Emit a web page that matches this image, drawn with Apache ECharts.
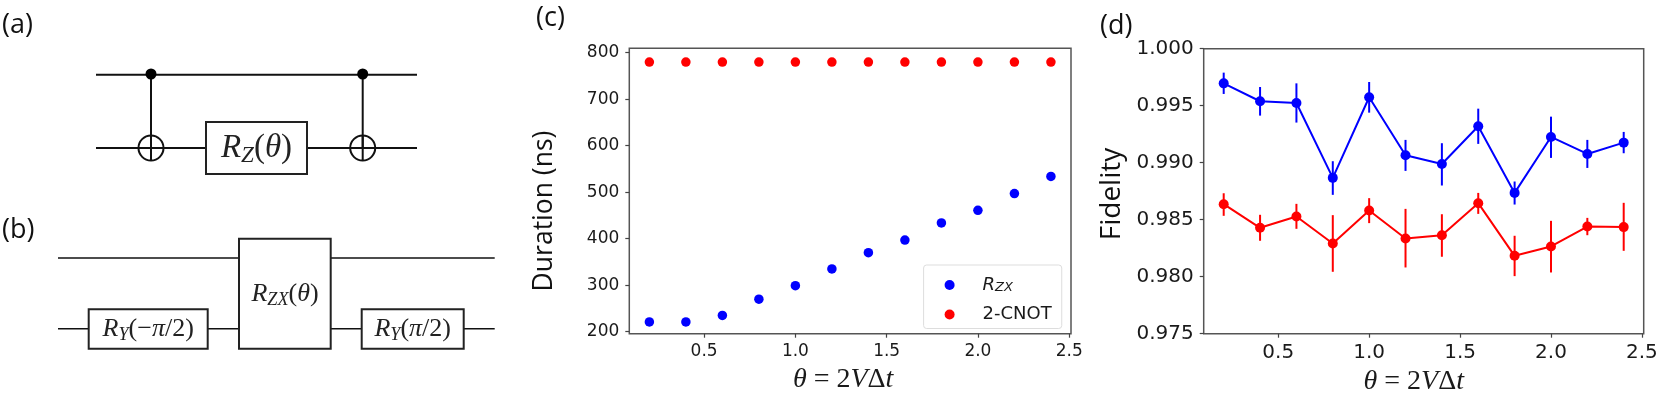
<!DOCTYPE html>
<html>
<head>
<meta charset="utf-8">
<title>Circuits, duration and fidelity</title>
<script src="https://cdn.jsdelivr.net/npm/echarts@6/dist/echarts.min.js"></script>
<style>
html, body { margin: 0; padding: 0; background: #fff; }
#chart { width: 1661px; height: 396px; }
</style>
</head>
<body>
<div id="chart"></div>
<script>
// data
var theta = [0.2, 0.4, 0.6, 0.8, 1.0, 1.2, 1.4, 1.6, 1.8, 2.0, 2.2, 2.4];
var thetaTicks = [0.5, 1.0, 1.5, 2.0, 2.5];

var durationTicks = [200, 300, 400, 500, 600, 700, 800];
var durationRzx = [221, 221, 235, 270, 299, 335, 370, 397, 434, 461, 497, 534];
var durationCnot = [780, 780, 780, 780, 780, 780, 780, 780, 780, 780, 780, 780];

var fidelityTicks = [0.975, 0.980, 0.985, 0.990, 0.995, 1.000];
var fidelityRzx = [0.99696, 0.99539, 0.99524, 0.98867, 0.99574, 0.99065, 0.98989, 0.99320, 0.98735, 0.99226, 0.99077, 0.99176];
var fidelityRzxHigh = [0.99790, 0.99664, 0.99696, 0.99013, 0.99708, 0.99200, 0.99171, 0.99474, 0.98835, 0.99404, 0.99200, 0.99270];
var fidelityRzxLow = [0.99603, 0.99413, 0.99352, 0.98718, 0.99439, 0.98928, 0.98800, 0.99165, 0.98633, 0.99042, 0.98954, 0.99083];
var fidelityCnot = [0.98636, 0.98429, 0.98528, 0.98291, 0.98581, 0.98335, 0.98364, 0.98645, 0.98183, 0.98265, 0.98440, 0.98435];
var fidelityCnotHigh = [0.98732, 0.98543, 0.98639, 0.98540, 0.98689, 0.98595, 0.98548, 0.98735, 0.98359, 0.98490, 0.98516, 0.98648];
var fidelityCnotLow = [0.98534, 0.98315, 0.98420, 0.98043, 0.98470, 0.98081, 0.98175, 0.98551, 0.98005, 0.98037, 0.98364, 0.98227];

var BLUE = '#0000ff';
var RED = '#ff0000';
var INK = '#1a1a1a';
var TICK_FONT = 'DejaVu Sans';
var MATH_FONT = 'Liberation Serif';
var LABEL_FONT = 'Open Sans';

function pairs(xs, ys) {
    return xs.map(function (x, i) { return [x, ys[i]]; });
}

function errorData(xs, low, high) {
    return xs.map(function (x, i) { return [x, low[i], high[i]]; });
}

// vertical error bars, one custom series per colour
function errorSeries(name, color, low, high) {
    return {
        name: name,
        type: 'custom',
        xAxisIndex: 1,
        yAxisIndex: 1,
        data: errorData(theta, low, high),
        encode: { x: 0, y: [1, 2] },
        z: 2,
        renderItem: function (params, api) {
            var a = api.coord([api.value(0), api.value(1)]);
            var b = api.coord([api.value(0), api.value(2)]);
            return {
                type: 'line',
                shape: { x1: a[0], y1: a[1], x2: b[0], y2: b[1] },
                style: { stroke: color, lineWidth: 2 }
            };
        }
    };
}

function xAxisFor(gridIndex, fontSize, nameSize, nameGap, namePad) {
    return {
        type: 'value',
        gridIndex: gridIndex,
        min: 0.09,
        max: 2.51,
        name: '{i|\u03b8} = 2{i|V}\u0394{i|t}',
        nameLocation: 'middle',
        nameGap: nameGap,
        nameTextStyle: {
            fontFamily: MATH_FONT,
            fontSize: nameSize,
            color: INK,
            padding: [0, namePad, 0, 0],
            rich: { i: { fontFamily: MATH_FONT, fontStyle: 'italic', fontSize: nameSize, color: INK } }
        },
        axisLine: { show: false },
        splitLine: { show: false },
        axisTick: { length: 4, inside: false, customValues: thetaTicks, lineStyle: { color: '#444', width: 1.2 } },
        axisLabel: {
            customValues: thetaTicks,
            fontFamily: TICK_FONT,
            fontSize: fontSize,
            color: INK,
            margin: 9,
            formatter: function (v) { return v.toFixed(1); }
        }
    };
}

function yAxisFor(gridIndex, min, max, ticks, digits, fontSize) {
    return {
        type: 'value',
        gridIndex: gridIndex,
        min: min,
        max: max,
        axisLine: { show: false },
        splitLine: { show: false },
        axisTick: { length: 4, customValues: ticks, lineStyle: { color: '#444', width: 1.2 } },
        axisLabel: {
            customValues: ticks,
            fontFamily: TICK_FONT,
            fontSize: fontSize,
            color: INK,
            margin: 10,
            formatter: function (v) { return v.toFixed(digits); }
        }
    };
}

// helpers for the two circuit sketches
function wire(x1, y1, x2, y2, width) {
    return {
        type: 'line',
        shape: { x1: x1, y1: y1, x2: x2, y2: y2 },
        style: { stroke: '#111', lineWidth: width || 2 }
    };
}

function box(x, y, w, h, width) {
    return {
        type: 'rect',
        z: 5,
        shape: { x: x, y: y, width: w, height: h },
        style: { fill: '#fff', stroke: '#222', lineWidth: width || 2 }
    };
}

function dot(x, y) {
    return { type: 'circle', z: 6, shape: { cx: x, cy: y, r: 5.5 }, style: { fill: '#000' } };
}

function cnot(x, y) {
    return [
        { type: 'circle', z: 6, shape: { cx: x, cy: y, r: 12.5 }, style: { fill: 'none', stroke: '#111', lineWidth: 2 } },
        wire(x, y - 12.5, x, y + 12.5)
    ];
}

function gateText(x, y, text, size) {
    return {
        type: 'text',
        z: 7,
        x: x,
        y: y,
        style: {
            text: text,
            align: 'center',
            verticalAlign: 'middle',
            fontFamily: MATH_FONT,
            fontSize: size,
            fill: '#222',
            rich: {
                i: { fontFamily: MATH_FONT, fontStyle: 'italic', fontSize: size, fill: '#222' },
                n: { fontFamily: MATH_FONT, fontSize: size, fill: '#222' },
                s: { fontFamily: MATH_FONT, fontStyle: 'italic', fontSize: size * 0.7, fill: '#222', padding: [size * 0.45, 0, 0, 0] }
            }
        }
    };
}

function panelLabel(x, y, text, size, rotation) {
    return {
        type: 'text',
        z: 7,
        x: x,
        y: y,
        rotation: rotation || 0,
        style: {
            text: text,
            align: rotation ? 'center' : 'left',
            verticalAlign: 'middle',
            fontFamily: LABEL_FONT,
            fontSize: size,
            fill: '#111'
        }
    };
}

var graphics = [
    panelLabel(2, 25, '(a)', 27),
    panelLabel(2, 230, '(b)', 27),
    panelLabel(536, 18, '(c)', 27),
    panelLabel(1100, 26, '(d)', 27),
    panelLabel(544, 211, 'Duration (ns)', 26.5, Math.PI / 2),
    panelLabel(1112, 194, 'Fidelity', 28, Math.PI / 2),

    // circuit (a)
    wire(96, 74.7, 417, 74.7),
    wire(96, 148, 417, 148),
    wire(151, 74, 151, 148),
    wire(362.7, 74, 362.7, 148),
    dot(151, 74),
    dot(362.7, 74),
    box(206, 122, 101, 52),
    gateText(256.5, 148, '{i|R}{s|Z}{n|(}{i|\u03b8}{n|)}', 33),

    // circuit (b)
    wire(58, 258, 494.7, 258, 1.5),
    wire(58, 328.7, 494.7, 328.7, 1.6),
    box(88.7, 309.3, 119, 39.4),
    box(239, 238.7, 91.7, 110),
    box(361.7, 309.3, 102, 39.4),
    gateText(148.2, 329, '{i|R}{s|Y}{n|(\u2212}{i|\u03c0}{n|/2)}', 26),
    gateText(285, 294, '{i|R}{s|ZX}{n|(}{i|\u03b8}{n|)}', 26),
    gateText(412.7, 329, '{i|R}{s|Y}{n|(}{i|\u03c0}{n|/2)}', 26)
].concat(cnot(151, 148), cnot(362.7, 148));

var option = {
    animation: false,
    backgroundColor: '#fff',
    textStyle: { fontFamily: TICK_FONT },
    grid: [
        { left: 629.3, width: 441.7, top: 48.3, height: 285.4, outerBoundsMode: 'none', show: true, borderColor: '#555', borderWidth: 1.5, backgroundColor: 'transparent' },
        { left: 1203.7, width: 440, top: 48.7, height: 285, outerBoundsMode: 'none', show: true, borderColor: '#555', borderWidth: 1.5, backgroundColor: 'transparent' }
    ],
    xAxis: [
        xAxisFor(0, 17, 28, 32, 14),
        xAxisFor(1, 20, 28, 27.5, 20)
    ],
    yAxis: [
        yAxisFor(0, 195.7, 809.5, durationTicks, 0, 17),
        yAxisFor(1, 0.975, 1.0, fidelityTicks, 3, 20)
    ],
    legend: {
        data: ['R_ZX', '2-CNOT'],
        orient: 'vertical',
        left: 923.6,
        top: 265,
        width: 138,
        padding: [11, 10, 5, 21],
        itemWidth: 10,
        itemHeight: 10,
        itemGap: 11,
        icon: 'circle',
        backgroundColor: '#fff',
        borderColor: '#ddd',
        borderWidth: 1,
        borderRadius: 3,
        formatter: function (name) {
            return name === 'R_ZX' ? '{i|R}{s|ZX}' : name;
        },
        textStyle: {
            fontFamily: TICK_FONT,
            fontSize: 18,
            color: INK,
            padding: [0, 0, 0, 23],
            rich: {
                i: { fontFamily: TICK_FONT, fontStyle: 'italic', fontSize: 18, color: INK },
                s: { fontFamily: TICK_FONT, fontStyle: 'italic', fontSize: 13, color: INK, padding: [6, 0, 0, 0] }
            }
        }
    },
    graphic: { elements: graphics },
    series: [
        { name: 'R_ZX', type: 'scatter', xAxisIndex: 0, yAxisIndex: 0, symbolSize: 9.5, itemStyle: { color: BLUE, opacity: 1 }, data: pairs(theta, durationRzx) },
        { name: '2-CNOT', type: 'scatter', xAxisIndex: 0, yAxisIndex: 0, symbolSize: 9.5, itemStyle: { color: RED, opacity: 1 }, data: pairs(theta, durationCnot) },

        errorSeries('R_ZX error', BLUE, fidelityRzxLow, fidelityRzxHigh),
        errorSeries('2-CNOT error', RED, fidelityCnotLow, fidelityCnotHigh),
        { name: 'R_ZX fidelity', type: 'line', xAxisIndex: 1, yAxisIndex: 1, symbol: 'circle', symbolSize: 10, showSymbol: true, z: 3, lineStyle: { color: BLUE, width: 2 }, itemStyle: { color: BLUE }, data: pairs(theta, fidelityRzx) },
        { name: '2-CNOT fidelity', type: 'line', xAxisIndex: 1, yAxisIndex: 1, symbol: 'circle', symbolSize: 10, showSymbol: true, z: 3, lineStyle: { color: RED, width: 2 }, itemStyle: { color: RED }, data: pairs(theta, fidelityCnot) }
    ]
};

var myChart = echarts.init(document.getElementById('chart'), null, { renderer: 'canvas' });
myChart.setOption(option);
</script>
</body>
</html>
